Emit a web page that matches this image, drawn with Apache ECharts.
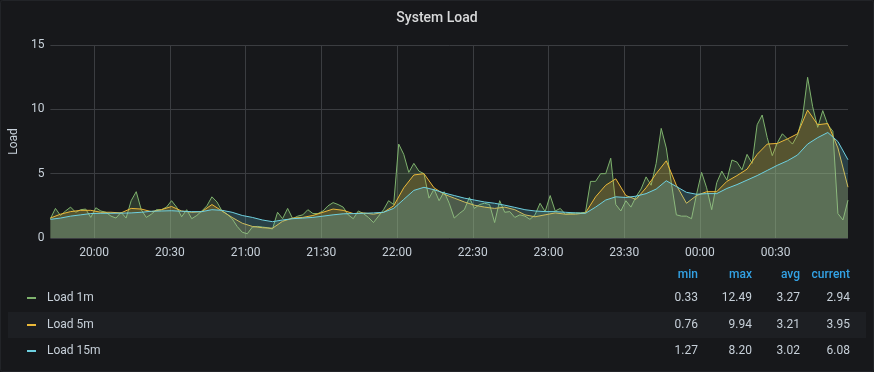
<!DOCTYPE html>
<html>
<head>
<meta charset="utf-8">
<script src="https://cdn.jsdelivr.net/npm/echarts@6/dist/echarts.min.js"></script>
<style>
  html, body { margin: 0; padding: 0; background: #161719; }
  #chart { width: 874px; height: 372px; }
</style>
</head>
<body>
<div id="chart"></div>
<script>
// ---- data ----
const seriesNames = ['Load 1m', 'Load 5m', 'Load 15m'];
const seriesColors = ['#7EB26D', '#EAB839', '#6ED0E0'];
const startTime = new Date(2021, 0, 1, 19, 42, 40).getTime();
const step1m = 2 * 60 * 1000;   // sample spacing of the 1m series
const step5m = 4 * 60 * 1000;   // sample spacing of the 5m / 15m series

const load1m = [
  1.5, 2.3, 1.75, 2.1, 2.4, 2.0, 2.2, 2.25, 1.6, 2.35,
  2.1, 2.0, 1.7, 1.55, 2.0, 1.55, 2.9, 3.6, 2.2, 1.6,
  1.85, 2.2, 2.2, 2.4, 2.9, 2.4, 1.65, 2.2, 1.5, 1.75,
  2.1, 2.5, 3.2, 2.8, 2.1, 1.85, 1.5, 0.9, 0.45, 0.33,
  0.85, 0.9, 0.85, 0.8, 0.7, 2.0, 1.5, 2.3, 1.5, 1.7,
  1.8, 2.2, 1.9, 1.9, 2.1, 2.5, 2.75, 2.6, 2.4, 1.8,
  1.5, 2.1, 1.9, 1.6, 1.2, 1.7, 2.2, 2.9, 2.6, 7.3,
  6.5, 5.1, 5.8, 5.2, 5.0, 3.1, 3.8, 2.9, 3.6, 2.7,
  1.55, 1.9, 2.2, 3.15, 2.3, 2.6, 2.7, 2.6, 1.2, 2.9,
  2.0, 2.05, 1.6, 1.8, 1.7, 1.45, 1.8, 2.7, 2.05, 3.3,
  2.1, 2.3, 1.85, 1.9, 1.95, 1.95, 2.0, 4.4, 4.4, 5.0,
  5.0, 6.2, 2.6, 2.1, 2.9, 2.4, 3.2, 3.8, 4.75, 4.1,
  5.8, 8.52, 7.0, 4.3, 1.8, 1.7, 1.7, 1.5, 3.4, 5.1,
  3.9, 2.2, 4.3, 5.2, 4.5, 6.06, 5.9, 5.3, 6.5, 5.8,
  8.8, 9.56, 7.8, 6.4, 7.4, 8.1, 7.7, 7.3, 8.0, 9.4,
  12.49, 10.2, 8.6, 9.9, 8.8, 8.3, 1.9, 1.4, 2.94
];

const load5m = [
  1.55, 1.85, 2.05, 2.15, 2.15, 2.0, 2.0, 1.95, 2.3, 2.25,
  2.05, 2.2, 2.45, 2.1, 2.0, 2.05, 2.6, 2.1, 1.6, 1.15,
  0.9, 0.8, 0.76, 1.3, 1.55, 1.6, 1.75, 2.0, 2.25, 2.15,
  1.9, 1.95, 1.85, 2.0, 2.5, 3.9, 4.9, 5.0, 3.9, 3.4,
  3.1, 2.8, 2.55, 2.4, 2.3, 2.4, 2.2, 1.8, 1.65, 1.8,
  1.95, 1.85, 1.85, 1.95, 3.2, 4.1, 4.6, 3.3, 3.0, 3.9,
  5.0, 6.0, 4.1, 2.7, 3.3, 3.6, 3.6, 4.4, 4.85, 5.35,
  6.5, 7.3, 7.35, 7.7, 8.1, 9.94, 8.8, 8.9, 7.0, 3.95
];

const load15m = [
  1.45, 1.55, 1.7, 1.8, 1.9, 1.92, 1.92, 1.93, 1.95, 2.0,
  2.08, 2.1, 2.12, 2.08, 2.05, 2.05, 2.2, 2.15, 2.0, 1.75,
  1.6, 1.4, 1.27, 1.4, 1.5, 1.55, 1.6, 1.7, 1.8, 1.88,
  1.9, 1.92, 1.95, 2.0, 2.3, 3.0, 3.7, 3.94, 3.75, 3.5,
  3.3, 3.1, 2.95, 2.8, 2.7, 2.55, 2.38, 2.2, 2.1, 2.05,
  2.05, 2.0, 1.95, 1.92, 2.4, 2.95, 3.2, 3.15, 3.25, 3.45,
  3.8, 4.45, 4.0, 3.55, 3.4, 3.45, 3.45, 3.85, 4.15, 4.5,
  4.85, 5.25, 5.65, 6.0, 6.45, 7.3, 7.8, 8.2, 7.5, 6.08
];

const statHeaders = ['min', 'max', 'avg', 'current'];
const statMin = ['0.33', '0.76', '1.27'];
const statMax = ['12.49', '9.94', '8.20'];
const statAvg = ['3.27', '3.21', '3.02'];
const statCurrent = ['2.94', '3.95', '6.08'];
const yTicks = [0, 5, 10, 15];
const xTickLabels = ['20:00', '20:30', '21:00', '21:30', '22:00', '22:30', '23:00', '23:30', '00:00', '00:30'];

// ---- chart ----
const toPairs = (arr, step) => arr.map((v, i) => [startTime + i * step, v]);
const seriesData = [toPairs(load1m, step1m), toPairs(load5m, step5m), toPairs(load15m, step5m)];
const endTime = startTime + (load1m.length - 1) * step1m;
const baseDay = new Date(startTime);
const xTickTimes = xTickLabels.map((lab) => {
  const [h, m] = lab.split(':').map(Number);
  const d = new Date(baseDay.getFullYear(), baseDay.getMonth(), baseDay.getDate(), h, m, 0);
  if (h < 12) d.setDate(d.getDate() + 1);
  return d.getTime();
});
const pad2 = (n) => (n < 10 ? '0' : '') + n;
const fmtTime = (val) => { const d = new Date(val); return pad2(d.getHours()) + ':' + pad2(d.getMinutes()); };

const chart = echarts.init(document.getElementById('chart'), null, { renderer: 'canvas' });
const FONT = 'Roboto, "Noto Sans", sans-serif';
const textCol = '#c7d0d9';
const gridCol = '#3b3d41';

const graphics = [];
graphics.push({ type: 'rect', left: 0, top: 0, z: -10, silent: true,
  shape: { x: 0.5, y: 0.5, width: 873, height: 371, r: 2 },
  style: { fill: '#17181b', stroke: '#222428', lineWidth: 1 } });
graphics.push({ type: 'rect', silent: true, z: -5,
  shape: { x: 8, y: 312, width: 858, height: 26 },
  style: { fill: '#1d1f23' } });
const colRight = [698, 752, 800, 850];
statHeaders.forEach((h, k) => {
  graphics.push({ type: 'text', silent: true,
    style: { text: h, x: colRight[k], y: 275, textAlign: 'right', textVerticalAlign: 'middle',
      fill: '#33a2e5', font: '500 12px ' + FONT } });
});
const rowsY = [298, 325, 351];
const statCols = [statMin, statMax, statAvg, statCurrent];
seriesNames.forEach((name, r) => {
  graphics.push({ type: 'rect', silent: true,
    shape: { x: 27, y: rowsY[r] - 1, width: 9, height: 2 },
    style: { fill: seriesColors[r] } });
  graphics.push({ type: 'text', silent: true,
    style: { text: name, x: 47, y: rowsY[r], textVerticalAlign: 'middle',
      fill: textCol, font: '12px ' + FONT } });
  statCols.forEach((col, k) => {
    graphics.push({ type: 'text', silent: true,
      style: { text: col[r], x: colRight[k], y: rowsY[r], textAlign: 'right', textVerticalAlign: 'middle',
        fill: textCol, font: '12px ' + FONT } });
  });
});

chart.setOption({
  backgroundColor: '#17181b',
  animation: false,
  title: {
    text: 'System Load', left: 'center', top: 6,
    textStyle: { color: '#d8d9da', fontSize: 14, fontWeight: 500, fontFamily: FONT }
  },
  grid: { left: 48, right: 26, top: 45, bottom: 134, containLabel: false },
  xAxis: {
    type: 'value', min: startTime, max: endTime, scale: true,
    axisLine: { show: false },
    axisTick: { show: false, customValues: xTickTimes },
    axisLabel: {
      customValues: xTickTimes,
      color: textCol, fontSize: 12, fontFamily: FONT, margin: 9,
      formatter: fmtTime
    },
    splitLine: { show: true, lineStyle: { color: gridCol, width: 1 } }
  },
  yAxis: {
    type: 'value', min: yTicks[0], max: yTicks[yTicks.length - 1], interval: yTicks[1] - yTicks[0],
    name: 'Load', nameLocation: 'middle', nameGap: 25, nameRotate: 90,
    nameTextStyle: { color: textCol, fontSize: 12, fontFamily: FONT },
    axisLine: { show: false }, axisTick: { show: false },
    axisLabel: { color: textCol, fontSize: 12, fontFamily: FONT, margin: 6 },
    splitLine: { show: true, lineStyle: { color: gridCol, width: 1 } }
  },
  series: seriesNames.map((name, i) => ({
    name: name, type: 'line', data: seriesData[i],
    showSymbol: false, symbol: 'none', smooth: false,
    lineStyle: { color: seriesColors[i], width: 1 },
    itemStyle: { color: seriesColors[i] },
    areaStyle: { color: seriesColors[i], opacity: 0.22 },
    z: 2 + i
  })),
  graphic: graphics
});
</script>
</body>
</html>
